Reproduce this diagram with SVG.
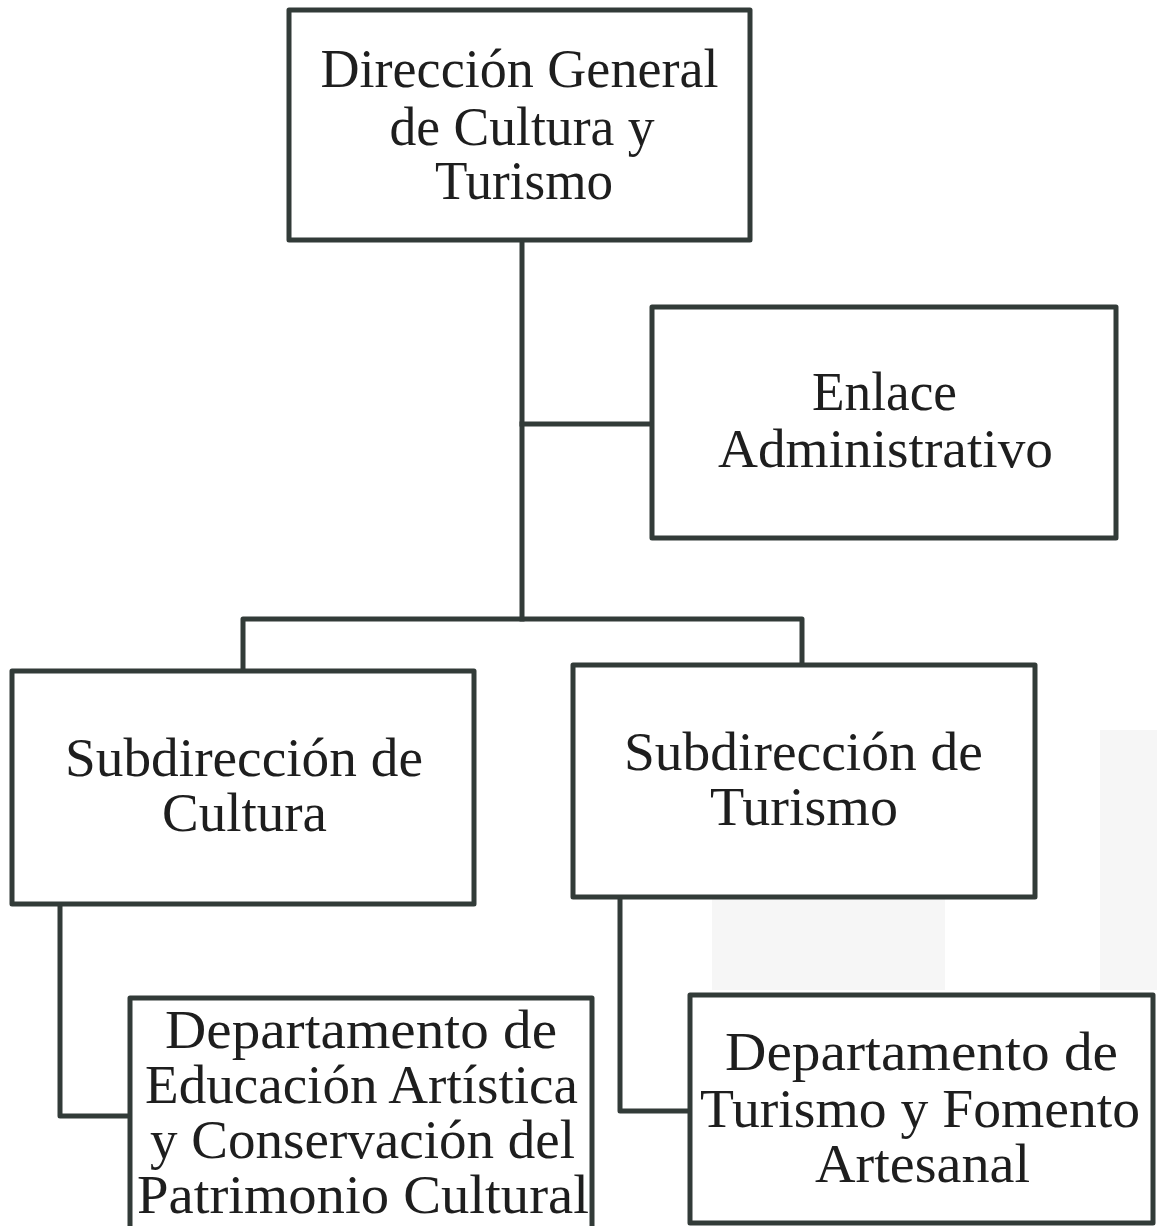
<svg xmlns="http://www.w3.org/2000/svg" width="1157" height="1226" viewBox="0 0 1157 1226">
<style>
.box{fill:#ffffff;stroke:#323b38;stroke-width:5;stroke-linejoin:round}
.conn{fill:none;stroke:#323b38;stroke-width:5;stroke-linejoin:round;stroke-linecap:square}
.t{font-family:"Liberation Serif","Times New Roman",serif;font-size:54px;fill:#1e1e1e;text-anchor:middle}
.d{font-size:55px}
.scan{fill:#f6f6f6}
</style>
<rect width="1157" height="1226" fill="#ffffff"/>
<g id="scan-marks">
<rect class="scan" x="712" y="885" width="233" height="105"/>
<rect class="scan" x="1100" y="730" width="57" height="260"/>
</g>
<g id="connectors">
<path class="conn" d="M522 240 V619"/>
<path class="conn" d="M522 424 H652"/>
<path class="conn" d="M243 671 V619 H802 V665"/>
<path class="conn" d="M60 904 V1116 H130"/>
<path class="conn" d="M620 897 V1111 H690"/>
</g>
<g id="direccion-general">
<rect class="box" x="289" y="10" width="461" height="230"/>
<text class="t" x="519.5" y="87" textLength="398" lengthAdjust="spacingAndGlyphs">Dirección General</text>
<text class="t" x="522" y="145" textLength="265" lengthAdjust="spacingAndGlyphs">de Cultura y</text>
<text class="t" x="524" y="199" textLength="178" lengthAdjust="spacingAndGlyphs">Turismo</text>
</g>
<g id="enlace-administrativo">
<rect class="box" x="652" y="307" width="464" height="231"/>
<text class="t" x="884.5" y="410" textLength="145" lengthAdjust="spacingAndGlyphs">Enlace</text>
<text class="t" x="885.5" y="467" textLength="335" lengthAdjust="spacingAndGlyphs">Administrativo</text>
</g>
<g id="subdireccion-cultura">
<rect class="box" x="12" y="671" width="462" height="233"/>
<text class="t" x="244" y="776" textLength="358" lengthAdjust="spacingAndGlyphs">Subdirección de</text>
<text class="t" x="244.5" y="831" textLength="165" lengthAdjust="spacingAndGlyphs">Cultura</text>
</g>
<g id="subdireccion-turismo">
<rect class="box" x="573" y="665" width="462" height="232"/>
<text class="t" x="803.5" y="770" textLength="359" lengthAdjust="spacingAndGlyphs">Subdirección de</text>
<text class="t" x="804" y="825" textLength="188" lengthAdjust="spacingAndGlyphs">Turismo</text>
</g>
<g id="depto-educacion">
<rect class="box" x="130" y="998" width="462" height="236"/>
<text class="t d" x="361" y="1048" textLength="392" lengthAdjust="spacingAndGlyphs">Departamento de</text>
<text class="t d" x="361.5" y="1103" textLength="433" lengthAdjust="spacingAndGlyphs">Educación Artística</text>
<text class="t d" x="362.5" y="1158" textLength="425" lengthAdjust="spacingAndGlyphs">y Conservación del</text>
<text class="t d" x="363" y="1213" textLength="452" lengthAdjust="spacingAndGlyphs">Patrimonio Cultural</text>
</g>
<g id="depto-turismo">
<rect class="box" x="690" y="995" width="463" height="228"/>
<text class="t d" x="921.5" y="1070" textLength="393" lengthAdjust="spacingAndGlyphs">Departamento de</text>
<text class="t d" x="920" y="1127" textLength="440" lengthAdjust="spacingAndGlyphs">Turismo y Fomento</text>
<text class="t d" x="922.5" y="1182" textLength="215" lengthAdjust="spacingAndGlyphs">Artesanal</text>
</g>
</svg>
